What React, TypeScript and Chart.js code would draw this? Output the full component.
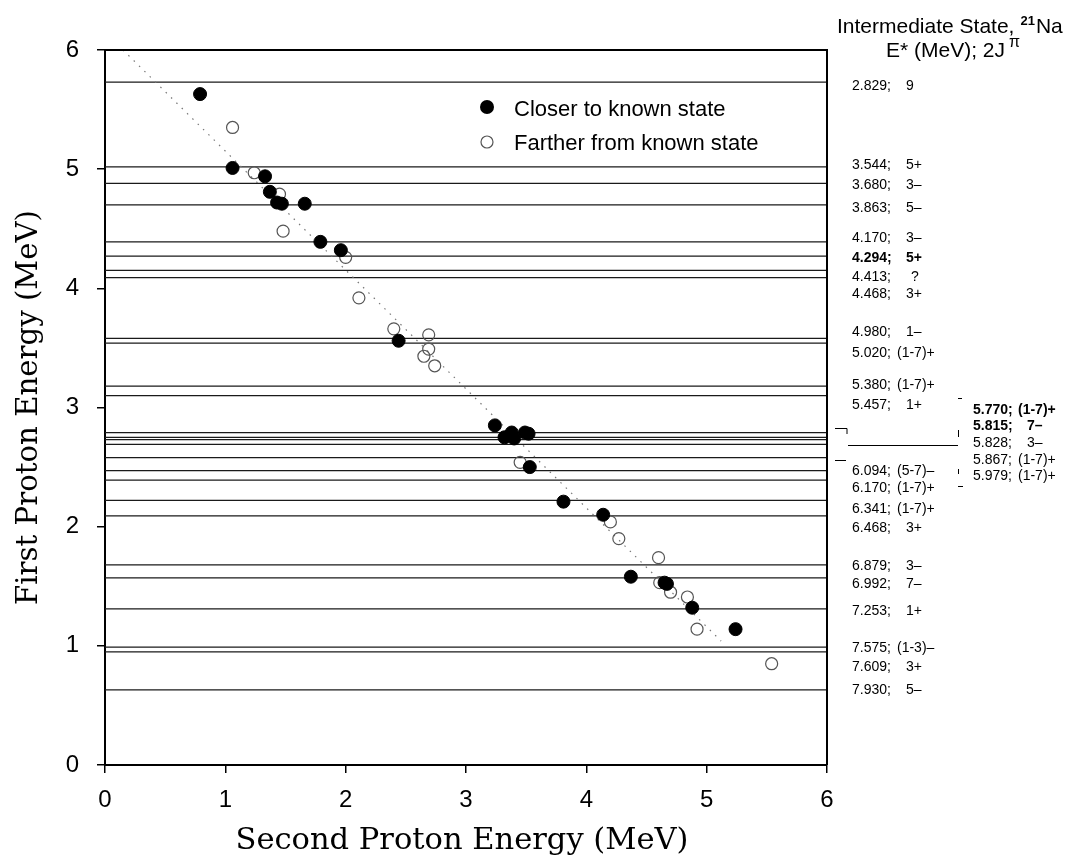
import React, { useEffect, useRef } from "react";
import { Chart, registerables } from "chart.js";

Chart.register(...registerables);

// ---------- data ----------
const X_TICKS = [0, 1, 2, 3, 4, 5, 6];
const Y_TICKS = [0, 1, 2, 3, 4, 5, 6];

// Closer to known state (filled)
const closerX = [0.79, 1.06, 1.33, 1.37, 1.43, 1.47, 1.66, 1.79, 1.96, 2.44, 3.24, 3.32, 3.38, 3.40, 3.49, 3.52, 3.53, 3.81, 4.14, 4.37, 4.65, 4.67, 4.88, 5.24];
const closerY = [5.63, 5.01, 4.94, 4.81, 4.72, 4.71, 4.71, 4.39, 4.32, 3.56, 2.85, 2.75, 2.79, 2.74, 2.79, 2.78, 2.50, 2.21, 2.10, 1.58, 1.53, 1.52, 1.32, 1.14];

// Farther from known state (open)
const fartherX = [1.06, 1.24, 1.45, 1.48, 2.00, 2.11, 2.40, 2.69, 2.69, 2.65, 2.74, 3.45, 4.20, 4.27, 4.60, 4.61, 4.70, 4.84, 4.92, 5.54];
const fartherY = [5.35, 4.97, 4.79, 4.48, 4.26, 3.92, 3.66, 3.61, 3.49, 3.43, 3.35, 2.54, 2.04, 1.90, 1.74, 1.53, 1.45, 1.41, 1.14, 0.85];

// Kinematic (dotted) guide line end points
const guideX = [0.15, 5.12];
const guideY = [6.0, 1.04];

// Intermediate states of 21Na
const stateEnergy = ["2.829", "3.544", "3.680", "3.863", "4.170", "4.294", "4.413", "4.468", "4.980", "5.020", "5.380", "5.457", "5.770", "5.815", "5.828", "5.867", "5.979", "6.094", "6.170", "6.341", "6.468", "6.879", "6.992", "7.253", "7.575", "7.609", "7.930"];
const stateSpin = ["9", "5+", "3–", "5–", "3–", "5+", "?", "3+", "1–", "(1-7)+", "(1-7)+", "1+", "(1-7)+", "7–", "3–", "(1-7)+", "(1-7)+", "(5-7)–", "(1-7)+", "(1-7)+", "3+", "3–", "7–", "1+", "(1-3)–", "3+", "5–"];
// first proton energy (MeV) at which each state's line is drawn
const stateLineE1 = [5.73, 5.02, 4.88, 4.70, 4.39, 4.27, 4.15, 4.09, 3.58, 3.54, 3.18, 3.10, 2.79, 2.75, 2.73, 2.69, 2.58, 2.47, 2.39, 2.22, 2.09, 1.68, 1.57, 1.31, 0.99, 0.95, 0.63];
const stateBold = [false, false, false, false, false, true, false, false, false, false, false, false, true, true, false, false, false, false, false, false, false, false, false, false, false, false, false];

// ---------- layout (not data) ----------
const labelColumn = [1, 1, 1, 1, 1, 1, 1, 1, 1, 1, 1, 1, 2, 2, 2, 2, 2, 1, 1, 1, 1, 1, 1, 1, 1, 1, 1];
const labelAtY = [5.70, 5.03, 4.87, 4.67, 4.42, 4.25, 4.09, 3.95, 3.63, 3.46, 3.19, 3.02, 2.98, 2.84, 2.70, 2.56, 2.42, 2.47, 2.32, 2.15, 1.99, 1.67, 1.52, 1.29, 0.98, 0.82, 0.63];

const SANS = '"Liberation Sans", Arial, sans-serif';
const SERIF = '"DejaVu Serif", serif';

function fitText(ctx: CanvasRenderingContext2D, text: string, font: string, targetW: number, cx: number, cy: number, rot: number) {
  ctx.save();
  ctx.font = font;
  const w = ctx.measureText(text).width;
  const s = targetW / w;
  ctx.translate(cx, cy);
  ctx.rotate(rot);
  ctx.scale(s, 1);
  ctx.textAlign = "center";
  ctx.textBaseline = "alphabetic";
  ctx.fillStyle = "#000";
  ctx.fillText(text, 0, 0);
  ctx.restore();
}

const decorPlugin = {
  id: "decor",
  afterDatasetsDraw(chart: any) {
    const ctx: CanvasRenderingContext2D = chart.ctx;
    const ca = chart.chartArea;
    const ys = chart.scales.y;
    ctx.save();
    // frame top & right
    ctx.strokeStyle = "#000";
    ctx.lineWidth = 2;
    ctx.beginPath();
    ctx.moveTo(ca.left, ca.top);
    ctx.lineTo(ca.right, ca.top);
    ctx.lineTo(ca.right, ca.bottom);
    ctx.stroke();

    // state labels
    ctx.fillStyle = "#000";
    ctx.textBaseline = "middle";
    ctx.textAlign = "left";
    for (let i = 0; i < stateEnergy.length; i++) {
      const py = ys.getPixelForValue(labelAtY[i]);
      const col2 = labelColumn[i] === 2;
      const ex = ca.right + (col2 ? 146 : 25);
      const sp = stateSpin[i];
      let sx = ex + (sp.startsWith("(") ? 45 : 54);
      if (sp === "?") sx = ex + 59;
      ctx.font = `${stateBold[i] ? "bold " : ""}14px ${SANS}`;
      ctx.fillText(stateEnergy[i] + ";", ex, py);
      ctx.fillText(sp, sx, py);
    }

    // bracket marks between the two label columns
    const bx = ca.right;
    ctx.lineWidth = 1;
    ctx.strokeStyle = "#000";
    ctx.beginPath();
    ctx.moveTo(bx + 8, 428.5); ctx.lineTo(bx + 20, 428.5); ctx.lineTo(bx + 20, 434);
    ctx.moveTo(bx + 21, 445.5); ctx.lineTo(bx + 131, 445.5);
    ctx.moveTo(bx + 8, 460.5); ctx.lineTo(bx + 19, 460.5);
    ctx.moveTo(bx + 131, 398.5); ctx.lineTo(bx + 135, 398.5);
    ctx.moveTo(bx + 131.5, 430); ctx.lineTo(bx + 131.5, 437);
    ctx.moveTo(bx + 131.5, 469); ctx.lineTo(bx + 131.5, 474);
    ctx.moveTo(bx + 131, 486.5); ctx.lineTo(bx + 136, 486.5);
    ctx.stroke();

    // legend
    const lx = ca.left + 382;
    ctx.fillStyle = "#000";
    ctx.beginPath();
    ctx.arc(lx, ca.top + 57, 7, 0, Math.PI * 2);
    ctx.fill();
    ctx.strokeStyle = "#555";
    ctx.lineWidth = 1.2;
    ctx.beginPath();
    ctx.arc(lx, ca.top + 92, 6, 0, Math.PI * 2);
    ctx.stroke();
    ctx.font = `22px ${SANS}`;
    ctx.fillStyle = "#000";
    ctx.textBaseline = "middle";
    ctx.fillText("Closer to known state", lx + 27, ca.top + 60);
    ctx.fillText("Farther from known state", lx + 27, ca.top + 94);

    // header
    ctx.textBaseline = "alphabetic";
    ctx.font = `21px ${SANS}`;
    const h1 = "Intermediate State,";
    ctx.fillText(h1, 837, 33);
    const w1 = ctx.measureText(h1).width;
    ctx.font = `bold 13px ${SANS}`;
    ctx.fillText("21", 837 + w1 + 6, 25);
    const w21 = ctx.measureText("21").width;
    ctx.font = `21px ${SANS}`;
    ctx.fillText("Na", 837 + w1 + 7 + w21, 33);
    const h2 = "E* (MeV); 2J";
    ctx.fillText(h2, 886, 57);
    const w2 = ctx.measureText(h2).width;
    ctx.font = `16px ${SANS}`;
    ctx.fillText("π", 886 + w2 + 4, 47);

    // axis titles
    fitText(ctx, "Second Proton Energy (MeV)", `29px ${SERIF}`, 453, (ca.left + ca.right) / 2 - 4, 849, 0);
    fitText(ctx, "First Proton Energy (MeV)", `29px ${SERIF}`, 395, 37, (ca.top + ca.bottom) / 2, -Math.PI / 2);
    ctx.restore();
  },
};

export default function App() {
  const ref = useRef<HTMLCanvasElement | null>(null);
  useEffect(() => {
    if (!ref.current) return;
    const lineSets = stateLineE1.map((v) => ({
      data: [{ x: 0, y: v }, { x: 6, y: v }],
      showLine: true,
      borderColor: "#1a1a1a",
      borderWidth: 1.2,
      pointRadius: 0,
      order: 4,
    }));
    const chart = new Chart(ref.current, {
      type: "scatter",
      data: {
        datasets: [
          ...lineSets,
          {
            data: guideX.map((x, i) => ({ x, y: guideY[i] })),
            showLine: true,
            borderColor: "#777",
            borderWidth: 1.2,
            borderDash: [1.5, 6],
            pointRadius: 0,
            order: 3,
          },
          {
            label: "Farther from known state",
            data: fartherX.map((x, i) => ({ x, y: fartherY[i] })),
            pointStyle: "circle",
            pointRadius: 6,
            backgroundColor: "rgba(255,255,255,0)",
            borderColor: "#555",
            borderWidth: 1.2,
            order: 2,
          },
          {
            label: "Closer to known state",
            data: closerX.map((x, i) => ({ x, y: closerY[i] })),
            pointStyle: "circle",
            pointRadius: 6.5,
            backgroundColor: "#000",
            borderColor: "#000",
            borderWidth: 1,
            order: 1,
          },
        ] as any,
      },
      options: {
        responsive: false,
        animation: false,
        devicePixelRatio: 1,
        layout: { padding: { left: 0, top: 50, right: 244, bottom: 0 } },
        plugins: { legend: { display: false }, tooltip: { enabled: false } },
        scales: {
          x: {
            type: "linear",
            min: 0,
            max: 6,
            afterBuildTicks: (s: any) => { s.ticks = X_TICKS.map((v) => ({ value: v })); },
            afterFit: (s: any) => { s.height = 93; },
            ticks: { font: { family: SANS, size: 24 }, color: "#000", padding: 13, maxRotation: 0 },
            grid: { drawOnChartArea: false, drawTicks: true, tickLength: 8, color: "#000", lineWidth: 1.5 },
            border: { color: "#000", width: 2 },
          },
          y: {
            type: "linear",
            min: 0,
            max: 6,
            afterBuildTicks: (s: any) => { s.ticks = Y_TICKS.map((v) => ({ value: v })); },
            afterFit: (s: any) => { s.width = 105; },
            ticks: { font: { family: SANS, size: 24 }, color: "#000", padding: 18 },
            grid: { drawOnChartArea: false, drawTicks: true, tickLength: 8, color: "#000", lineWidth: 1.5 },
            border: { color: "#000", width: 2 },
          },
        },
      } as any,
      plugins: [decorPlugin],
    });
    return () => chart.destroy();
  }, []);
  return (
    <div style={{ position: "absolute", left: 0, top: 0, width: 1071, height: 858, background: "#fff" }}>
      <canvas ref={ref} width={1071} height={858} style={{ display: "block" }} />
    </div>
  );
}
